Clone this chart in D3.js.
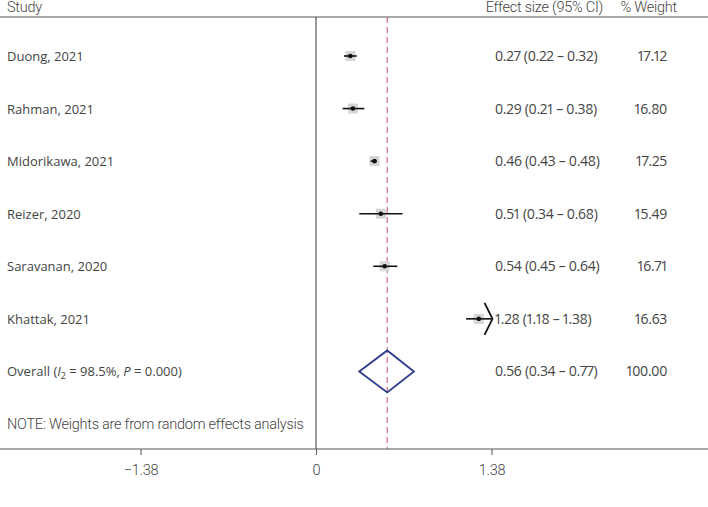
<!DOCTYPE html>
<html>
<head>
<meta charset="utf-8">
<script src="https://cdn.jsdelivr.net/npm/d3@7"></script>
<style>
  body { margin: 0; background: #fff; }
  svg text { fill: #444; }
  .lbl { font-family: "Open Sans", sans-serif; font-size: 13px; }
  .num { font-family: "Open Sans", sans-serif; font-size: 14px; letter-spacing: -0.3px; font-variant-numeric: proportional-nums; font-feature-settings: "pnum"; }
  .cond { font-family: Roboto, sans-serif; font-size: 14.5px; font-weight: 300; letter-spacing: -0.25px; }
</style>
</head>
<body>
<svg id="forest"></svg>
<script>
var studies = ['Duong, 2021', 'Rahman, 2021', 'Midorikawa, 2021', 'Reizer, 2020', 'Saravanan, 2020', 'Khattak, 2021'];
var es      = [0.27, 0.29, 0.46, 0.51, 0.54, 1.28];
var lower   = [0.22, 0.21, 0.43, 0.34, 0.45, 1.18];
var upper   = [0.32, 0.38, 0.48, 0.68, 0.64, 1.38];
var weights = ['17.12', '16.80', '17.25', '15.49', '16.71', '16.63'];
var overall = {es: 0.56, lo: 0.34, hi: 0.77, weight: '100.00'};
var ticks   = [-1.38, 0, 1.38];

var width = 708, height = 507;
var svg = d3.select('#forest').attr('width', width).attr('height', height);

var x = d3.scaleLinear().domain([-1.38, 1.38]).range([140.5, 491.5]);
var y = d3.scaleLinear().domain([0, 7]).range([56, 424]);
var topY = 17, axisY = 449;
var esX = 495, wtX = 667;

function fmt(v) { return v.toFixed(2); }
function ciText(e, l, u) { return fmt(e) + ' (' + fmt(l) + ' \u2013 ' + fmt(u) + ')'; }

// frame lines
svg.append('line').attr('x1', 0).attr('x2', width).attr('y1', topY).attr('y2', topY)
   .attr('stroke', '#555').attr('stroke-width', 1);
svg.append('line').attr('x1', x(0)).attr('x2', x(0)).attr('y1', topY).attr('y2', axisY)
   .attr('stroke', '#333').attr('stroke-width', 1);
svg.append('line').attr('x1', x(overall.es)).attr('x2', x(overall.es)).attr('y1', topY).attr('y2', axisY)
   .attr('stroke', '#cc6078').attr('stroke-width', 1.1).attr('stroke-dasharray', '6,4');

// headers
svg.append('text').attr('class', 'cond').attr('x', 603).attr('y', 12).attr('text-anchor', 'end').text('Effect size (95% CI)');
svg.append('text').attr('class', 'cond').attr('x', 7).attr('y', 12).text('Study');
svg.append('text').attr('class', 'cond').attr('x', 677).attr('y', 12).attr('text-anchor', 'end').text('% Weight');

// study rows
var rows = svg.selectAll('g.row').data(studies).enter().append('g').attr('class', 'row');

rows.append('text').attr('class', 'lbl').attr('x', 7).attr('y', function(d, i) { return y(i) + 5; })
    .text(function(d) { return d; });

rows.append('rect')
    .attr('x', function(d, i) { return x(es[i]) - 5; })
    .attr('y', function(d, i) { return y(i) - 5; })
    .attr('width', 10).attr('height', 10).attr('fill', '#d6d6d6');

rows.append('line')
    .attr('x1', function(d, i) { return x(lower[i]); })
    .attr('x2', function(d, i) { return x(upper[i]); })
    .attr('y1', function(d, i) { return y(i); })
    .attr('y2', function(d, i) { return y(i); })
    .attr('stroke', '#111').attr('stroke-width', 1.6);

rows.append('circle')
    .attr('cx', function(d, i) { return x(es[i]); })
    .attr('cy', function(d, i) { return y(i); })
    .attr('r', 2.3).attr('fill', '#111');

rows.append('text').attr('class', 'num').attr('x', esX)
    .attr('y', function(d, i) { return y(i) + 5; })
    .text(function(d, i) { return ciText(es[i], lower[i], upper[i]); });

rows.append('text').attr('class', 'num').attr('x', wtX).attr('text-anchor', 'end')
    .attr('y', function(d, i) { return y(i) + 5; })
    .text(function(d, i) { return weights[i]; });

// arrow for CI reaching the axis limit
upper.forEach(function(u, i) {
  if (u >= x.domain()[1]) {
    var ax = x(u) + 1, ay = y(i);
    svg.append('path')
       .attr('d', 'M' + (ax - 8) + ',' + (ay - 16) + 'L' + ax + ',' + ay + 'L' + (ax - 8) + ',' + (ay + 16))
       .attr('fill', 'none').attr('stroke', '#111').attr('stroke-width', 1.8);
  }
});

// overall
var oy = y(6);
var ot = svg.append('text').attr('class', 'lbl').attr('x', 7).attr('y', oy + 5);
ot.append('tspan').text('Overall (');
ot.append('tspan').attr('font-style', 'italic').text('I');
ot.append('tspan').attr('font-size', '9px').attr('dy', 3).text('2');
ot.append('tspan').attr('dy', -3).text(' = 98.5%, ');
ot.append('tspan').attr('font-style', 'italic').text('P');
ot.append('tspan').text(' = 0.000)');

svg.append('path')
   .attr('d', 'M' + x(overall.lo) + ',' + oy + 'L' + x(overall.es) + ',' + (oy - 21) +
              'L' + x(overall.hi) + ',' + oy + 'L' + x(overall.es) + ',' + (oy + 21) + 'Z')
   .attr('fill', 'none').attr('stroke', '#2e3a8c').attr('stroke-width', 1.8);

svg.append('text').attr('class', 'num').attr('x', esX).attr('y', oy + 5)
   .text(ciText(overall.es, overall.lo, overall.hi));
svg.append('text').attr('class', 'num').attr('x', wtX).attr('y', oy + 5).attr('text-anchor', 'end')
   .text(overall.weight);

// note
svg.append('text').attr('class', 'cond').attr('x', 7).attr('y', y(7) + 5)
   .text('NOTE: Weights are from random effects analysis');

// axis
svg.append('line').attr('x1', 0).attr('x2', width).attr('y1', axisY).attr('y2', axisY)
   .attr('stroke', '#555').attr('stroke-width', 1.2);

var axis = d3.axisBottom(x).tickValues(ticks).tickSize(6)
   .tickFormat(function(d) { return d === 0 ? '0' : d3.format('.2f')(d).replace('-', '\u2212'); });
var g = svg.append('g').attr('transform', 'translate(0,' + axisY + ')').call(axis);
g.select('.domain').remove();
g.selectAll('.tick line').attr('stroke', '#555');
g.selectAll('.tick text').attr('class', 'cond').attr('dy', '1.2em').style('fill', '#444');
</script>
</body>
</html>
